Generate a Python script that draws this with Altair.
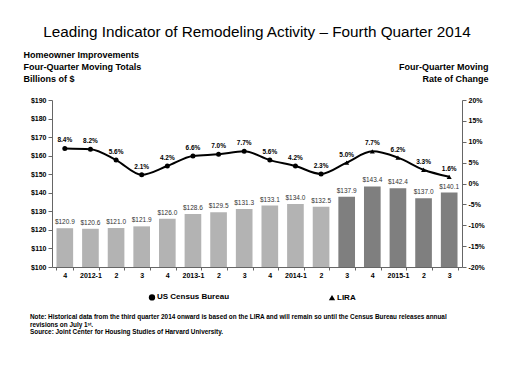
import altair as alt
import pandas as pd

PERIODS = ["2011-4", "2012-1", "2012-2", "2012-3", "2012-4", "2013-1", "2013-2", "2013-3",
           "2013-4", "2014-1", "2014-2", "2014-3", "2014-4", "2015-1", "2015-2", "2015-3"]
SPENDING = [120.9, 120.6, 121.0, 121.9, 126.0, 128.6, 129.5, 131.3,
            133.1, 134.0, 132.5, 137.9, 143.4, 142.4, 137.0, 140.1]
RATES = [8.4, 8.2, 5.6, 2.1, 4.2, 6.6, 7.0, 7.7, 5.6, 4.2, 2.3, 5.0, 7.7, 6.2, 3.3, 1.6]
SOURCES = ["US Census Bureau"] * 11 + ["LIRA"] * 5
SERIES = ["US Census Bureau", "LIRA"]
BAR_COLORS = ["#b3b3b3", "#7f7f7f"]
POINT_SHAPES = ["circle", "triangle-up"]
TITLE = "Leading Indicator of Remodeling Activity \u2013 Fourth Quarter 2014"
LEFT_TITLE = ["Homeowner Improvements", "Four-Quarter Moving Totals", "Billions of $"]
RIGHT_TITLE = ["Four-Quarter Moving", "Rate of Change"]
NOTE_LINES = [
    "Note: Historical data from the third quarter 2014 onward is based on the LIRA and will remain so until the Census  Bureau releases annual",
    "revisions  on July 1\u02e2\u1d57.",
    "Source: Joint Center for Housing  Studies of Harvard University.",
]

FONT = "Liberation Sans"

df = pd.DataFrame({"period": PERIODS, "spending": SPENDING, "rate": RATES, "source": SOURCES})

x_enc = alt.X(
    "period:N", sort=PERIODS,
    scale=alt.Scale(domain=PERIODS, paddingInner=0.35, paddingOuter=0.175),
    axis=alt.Axis(
        title=None, labelAngle=0, tickBand="extent", tickSize=3, labelPadding=1,
        labelExpr="split(datum.value,'-')[1] == '1' ? datum.value : split(datum.value,'-')[1]",
        labelFont=FONT, labelFontSize=7, labelFontWeight="bold", labelColor="#000",
        domainColor="#666", tickColor="#666",
    ),
)

left_axis = alt.Axis(
    values=list(range(100, 191, 10)), labelExpr="'$' + datum.value",
    labelFont=FONT, labelFontSize=7, labelFontWeight="bold", labelColor="#000",
    tickSize=4, labelPadding=2, grid=False, domainColor="#666", tickColor="#666",
    title=LEFT_TITLE, titleAngle=0, titleAlign="left", titleBaseline="top",
    titleX=-29, titleY=-50, titleFont=FONT, titleFontSize=9, titleFontWeight="bold",
    titleLineHeight=12, titleColor="#000",
)
right_axis = alt.Axis(
    orient="right", values=list(range(-20, 21, 5)), labelExpr="datum.value + '%'",
    labelFont=FONT, labelFontSize=7, labelFontWeight="bold", labelColor="#000",
    tickSize=4, labelPadding=2, grid=False, domainColor="#666", tickColor="#666",
    title=RIGHT_TITLE, titleAngle=0, titleAlign="right", titleBaseline="top",
    titleX=26, titleY=-38, titleFont=FONT, titleFontSize=9, titleFontWeight="bold",
    titleLineHeight=12, titleColor="#000",
)

y_spend = alt.Y("spending:Q", scale=alt.Scale(domain=[100, 190], zero=False, nice=False), axis=left_axis)
y_rate = alt.Y("rate:Q", scale=alt.Scale(domain=[-20, 20], zero=False, nice=False), axis=right_axis)

base = alt.Chart(df)

bars = base.transform_calculate(bar_source="datum.source").mark_bar().encode(
    x=x_enc,
    y=y_spend,
    y2=alt.Y2(datum=100),
    color=alt.Color("bar_source:N", scale=alt.Scale(domain=SERIES, range=BAR_COLORS),
                    legend=alt.Legend(orient="bottom", title=None, direction="horizontal",
                                      labelExpr="''", symbolOpacity=0, symbolSize=1)),
)

bar_text = base.transform_calculate(
    blabel="'$' + format(datum.spending, '.1f')"
).mark_text(baseline="bottom", dy=-3, font=FONT, fontSize=6.5, color="#333").encode(
    x=x_enc, y=y_spend, text="blabel:N",
)

note = alt.Chart(pd.DataFrame({"note": ["\n".join(NOTE_LINES)]})).mark_text(
    align="left", baseline="top", font=FONT, fontSize=6.4, fontWeight="bold",
    lineHeight=7.5, lineBreak="\n", color="#000",
).encode(x=alt.value(-22), y=alt.value(214), text="note:N")

left = alt.layer(bars, bar_text, note)

line = base.mark_line(color="black", strokeWidth=2, interpolate="monotone").encode(
    x=x_enc, y=y_rate,
)

points = base.mark_point(filled=True, color="black", size=25, opacity=1).encode(
    x=x_enc,
    y=y_rate,
    shape=alt.Shape("source:N", scale=alt.Scale(domain=SERIES, range=POINT_SHAPES), legend=alt.Legend(
        title=None, orient="none", legendX=96, legendY=193, direction="horizontal",
        symbolSize=40,
        labelFont=FONT, labelFontSize=8, labelFontWeight="bold", labelColor="#000",
        labelOffset=1, columnPadding=95,
    )),
)

rate_text = base.transform_calculate(
    rlabel="format(datum.rate, '.1f') + '%'"
).mark_text(baseline="bottom", dy=-5, font=FONT, fontSize=6.5, fontWeight="bold", color="#000").encode(
    x=x_enc, y=y_rate, text="rlabel:N",
)

right = alt.layer(line, points, rate_text)

chart = alt.layer(left, right).resolve_scale(y="independent").properties(
    width=410, height=167,
    title=alt.Title(TITLE, font=FONT, fontSize=15.3, fontWeight="normal", anchor="middle",
                    color="#000", offset=10),
    autosize=alt.AutoSizeParams(type="none"),
    padding={"left": 52, "top": 100, "right": 58, "bottom": 110},
    background="white",
).configure_view(strokeWidth=0)

chart.save("out.html", embed_options={"renderer": "svg", "actions": False})
